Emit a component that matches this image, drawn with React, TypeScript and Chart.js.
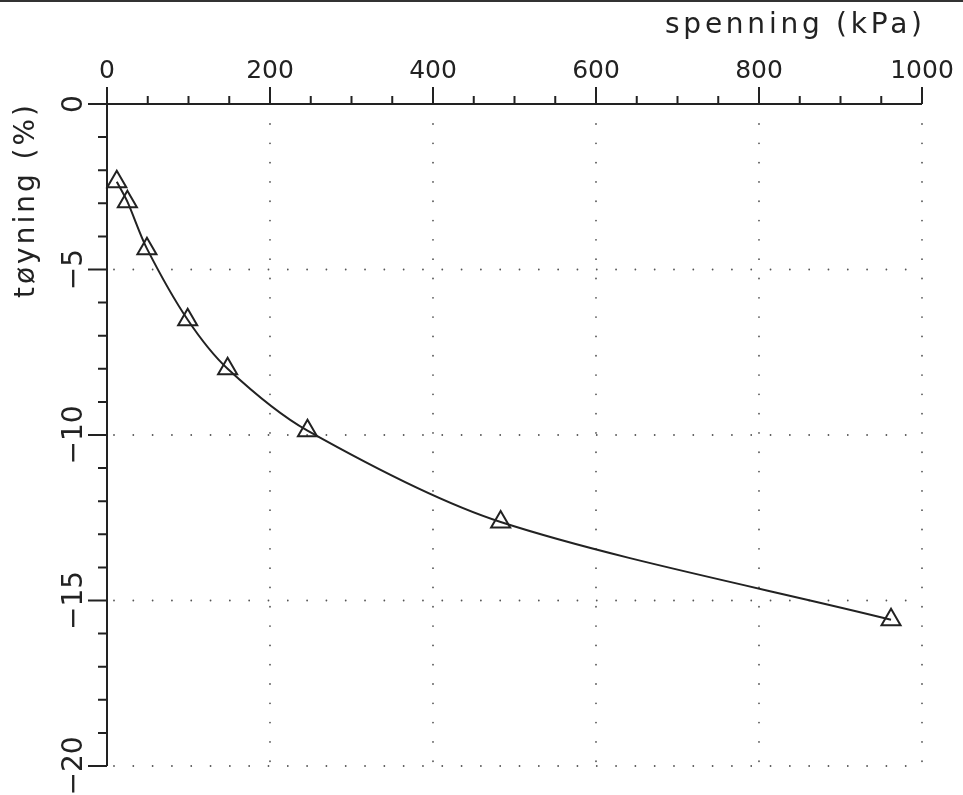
import React, { useEffect, useRef } from "react";
import { Chart, registerables } from "chart.js";

Chart.register(...registerables);

// ---- data ----
const stress = [12, 25, 49, 99, 148, 246, 483, 962]; // kPa
const strain = [-2.35, -2.95, -4.37, -6.52, -8.0, -9.87, -12.63, -15.58]; // %

const xTickValues = [0, 200, 400, 600, 800, 1000];
const xTickLabels = ["0", "200", "400", "600", "800", "1000"];
const yTickValues = [0, -5, -10, -15, -20];
const yTickLabels = ["0", "−5", "−10", "−15", "−20"];
const xGridValues = [200, 400, 600, 800, 1000];
const yGridValues = [-5, -10, -15, -20];
const xMinorStep = 50;
const yMinorStep = 1;
const xTitle = "spenning (kPa)";
const yTitle = "tøyning (%)";

const X_MIN = 0, X_MAX = 1000, Y_MIN = -20, Y_MAX = 0;
const INK = "#222";
const FONT = '"DejaVu Sans", "Liberation Sans", sans-serif';

function setFitSpacing(ctx: CanvasRenderingContext2D, text: string, target: number) {
  (ctx as any).letterSpacing = "0px";
  const w = ctx.measureText(text).width;
  const sp = (target - w) / Math.max(1, text.length - 1);
  (ctx as any).letterSpacing = sp + "px";
}

const plotterAxes = {
  id: "plotterAxes",
  beforeDatasetsDraw(chart: any) {
    const { ctx } = chart;
    const xs = chart.scales.x;
    const ys = chart.scales.y;
    const x0 = xs.getPixelForValue(X_MIN);
    const x1 = xs.getPixelForValue(X_MAX);
    const y0 = ys.getPixelForValue(Y_MAX);
    const y1 = ys.getPixelForValue(Y_MIN);
    ctx.save();

    // page frame line at top
    ctx.fillStyle = "#333";
    ctx.fillRect(0, 0, chart.width, 2);

    // dotted grid
    ctx.strokeStyle = "#555";
    ctx.lineWidth = 1.8;
    ctx.lineCap = "round";
    ctx.setLineDash([0.01, 19.3]);
    for (const v of xGridValues) {
      const px = xs.getPixelForValue(v);
      ctx.beginPath();
      ctx.moveTo(px, y0 + 20);
      ctx.lineTo(px, y1);
      ctx.stroke();
    }
    for (const v of yGridValues) {
      const py = ys.getPixelForValue(v);
      ctx.beginPath();
      ctx.moveTo(x0 + 7, py);
      ctx.lineTo(x1 + 1, py);
      ctx.stroke();
    }
    ctx.setLineDash([]);

    // axes lines
    ctx.strokeStyle = INK;
    ctx.lineWidth = 2;
    ctx.lineCap = "butt";
    ctx.beginPath();
    ctx.moveTo(x0, y0);
    ctx.lineTo(x1, y0);
    ctx.moveTo(x0, y0);
    ctx.lineTo(x0, y1);
    ctx.stroke();

    // x ticks (upward)
    ctx.beginPath();
    for (let v = X_MIN; v <= X_MAX; v += xMinorStep) {
      const px = xs.getPixelForValue(v);
      const len = xTickValues.includes(v) ? 17 : 8;
      ctx.moveTo(px, y0);
      ctx.lineTo(px, y0 - len);
    }
    // y ticks (leftward)
    for (let v = Y_MAX; v >= Y_MIN; v -= yMinorStep) {
      const py = ys.getPixelForValue(v);
      const len = yTickValues.includes(v) ? 19 : 9;
      ctx.moveTo(x0, py);
      ctx.lineTo(x0 - len, py);
    }
    ctx.stroke();

    // x tick labels
    ctx.fillStyle = INK;
    ctx.font = `25px ${FONT}`;
    ctx.textAlign = "center";
    ctx.textBaseline = "alphabetic";
    xTickValues.forEach((v, i) => {
      ctx.fillText(xTickLabels[i], xs.getPixelForValue(v), y0 - 26);
    });

    // y tick labels (rotated)
    ctx.font = `28px ${FONT}`;
    yTickValues.forEach((v, i) => {
      const py = ys.getPixelForValue(v);
      ctx.save();
      ctx.translate(x0 - 25, py);
      ctx.rotate(-Math.PI / 2);
      ctx.textAlign = "center";
      ctx.fillText(yTickLabels[i], 0, 0);
      ctx.restore();
    });

    // x title (top right)
    ctx.font = `28px ${FONT}`;
    ctx.textAlign = "left";
    setFitSpacing(ctx, xTitle, x1 - 665);
    ctx.fillText(xTitle, 665, 33);

    // y title (rotated)
    ctx.save();
    ctx.translate(34, 298);
    ctx.rotate(-Math.PI / 2);
    ctx.textAlign = "left";
    setFitSpacing(ctx, yTitle, 193);
    ctx.fillText(yTitle, 0, 0);
    ctx.restore();

    (ctx as any).letterSpacing = "0px";
    ctx.restore();
  },
};

export default function App() {
  const canvasRef = useRef<HTMLCanvasElement | null>(null);

  useEffect(() => {
    document.body.style.margin = "0";
    const canvas = canvasRef.current;
    if (!canvas) return;
    const chart = new Chart(canvas, {
      type: "line",
      data: {
        datasets: [
          {
            data: stress.map((s, i) => ({ x: s, y: strain[i] })),
            borderColor: INK,
            borderWidth: 2,
            tension: 0.3,
            fill: false,
            pointStyle: "triangle",
            pointRadius: 11,
            pointBorderWidth: 2,
            pointBorderColor: INK,
            pointBackgroundColor: "rgba(0,0,0,0)",
            clip: false as any,
          },
        ],
      },
      options: {
        responsive: false,
        animation: false,
        devicePixelRatio: 1,
        layout: { padding: { left: 107, top: 104, right: 41, bottom: 29 }, autoPadding: false } as any,
        scales: {
          x: { type: "linear", min: X_MIN, max: X_MAX, display: false },
          y: { type: "linear", min: Y_MIN, max: Y_MAX, display: false },
        },
        plugins: {
          legend: { display: false },
          tooltip: { enabled: false },
        },
        events: [],
      },
      plugins: [plotterAxes],
    });
    return () => chart.destroy();
  }, []);

  return (
    <div style={{ width: 963, height: 795, background: "#fff" }}>
      <canvas ref={canvasRef} width={963} height={795} style={{ display: "block" }} />
    </div>
  );
}
